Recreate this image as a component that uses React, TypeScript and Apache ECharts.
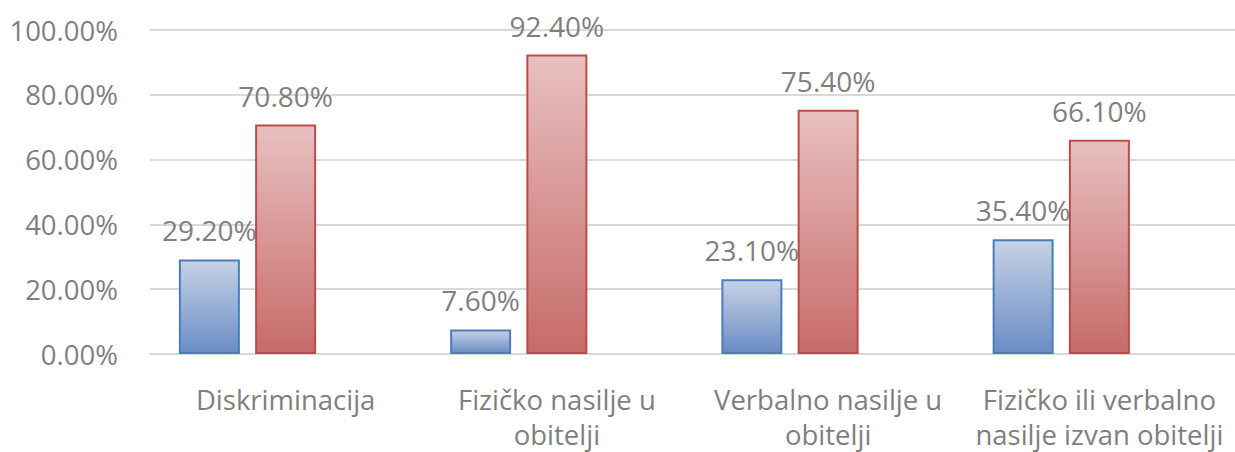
import React, { useEffect, useRef } from "react";
import * as echarts from "echarts";

const categories = [
  "Diskriminacija",
  "Fizičko nasilje u\nobitelji",
  "Verbalno nasilje u\nobitelji",
  "Fizičko ili verbalno\nnasilje izvan obitelji",
];
const seriesBlue = [29.2, 7.6, 23.1, 35.4];
const seriesRed = [70.8, 92.4, 75.4, 66.1];
const seriesEmpty: (number | null)[] = [null, null, null, null];
const yTicks = { min: 0, max: 100, interval: 20 };

const FONT = "'Open Sans', 'Noto Sans', sans-serif";
const GRAY = "#7f7f7f";

export default function App() {
  const ref = useRef<HTMLDivElement>(null);
  useEffect(() => {
    document.body.style.margin = "0";
    if (!ref.current) return;
    const chart = echarts.init(ref.current, null, { renderer: "svg" });
    const label = {
      show: true,
      position: "top",
      distance: 15,
      color: GRAY,
      fontSize: 28,
      fontFamily: FONT,
      formatter: (p: any) => p.value.toFixed(2) + "%",
    };
    chart.setOption({
      animation: false,
      grid: { left: 150, top: 30, width: 1088, height: 328 },
      xAxis: {
        type: "category",
        data: categories,
        axisLine: { lineStyle: { color: "#d9d9d9", width: 2 } },
        axisTick: { show: false },
        axisLabel: {
          color: GRAY,
          fontSize: 27.5,
          fontFamily: FONT,
          lineHeight: 35,
          margin: 28,
          interval: 0,
        },
      },
      yAxis: {
        type: "value",
        min: yTicks.min,
        max: yTicks.max,
        interval: yTicks.interval,
        axisLine: { show: false },
        axisTick: { show: false },
        splitLine: { lineStyle: { color: "#d9d9d9", width: 2 } },
        axisLabel: {
          color: GRAY,
          fontSize: 27.5,
          fontFamily: FONT,
          margin: 32,
          formatter: (v: number) => v.toFixed(2) + "%",
        },
      },
      series: [
        {
          type: "bar",
          data: seriesBlue,
          barWidth: 61,
          barGap: "25%",
          itemStyle: {
            color: new echarts.graphic.LinearGradient(0, 0, 0, 1, [
              { offset: 0, color: "#c6d2e6" },
              { offset: 1, color: "#6a8cc4" },
            ]),
            borderColor: "#4a7ebb",
            borderWidth: 2,
          },
          label,
        },
        {
          type: "bar",
          data: seriesRed,
          barWidth: 61,
          barGap: "25%",
          itemStyle: {
            color: new echarts.graphic.LinearGradient(0, 0, 0, 1, [
              { offset: 0, color: "#e8c0c0" },
              { offset: 1, color: "#c66b69" },
            ]),
            borderColor: "#be4b48",
            borderWidth: 2,
          },
          label,
        },
        {
          type: "bar",
          data: seriesEmpty,
          barWidth: 61,
          barGap: "25%",
        },
      ],
    });
    return () => chart.dispose();
  }, []);
  return <div ref={ref} style={{ width: 1235, height: 452 }} />;
}
